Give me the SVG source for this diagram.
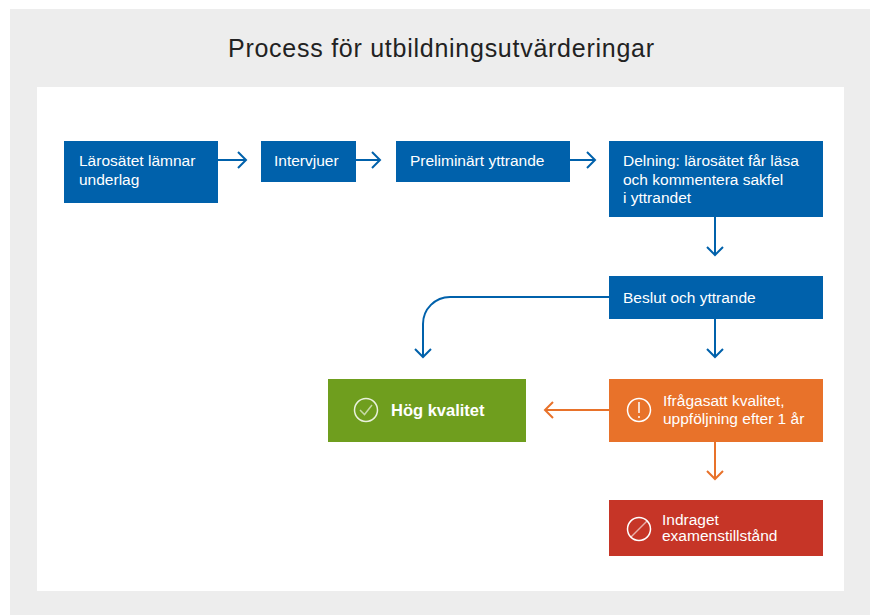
<svg xmlns="http://www.w3.org/2000/svg" width="870" height="615" viewBox="0 0 870 615">
<defs>
<style>
.t{font-family:"Liberation Sans",Arial,sans-serif;font-size:15.5px;fill:#fff}
.title{font-family:"Liberation Sans",Arial,sans-serif;font-size:25px;fill:#222}
.blue{fill:#0061AB}
.c{fill:none;stroke-width:2}
.cb{stroke:#0061AB}
.co{stroke:#E8722A}
.ic{fill:none;stroke:#fff;stroke-width:1.5}
</style>
<marker id="ab" viewBox="0 0 12 20" refX="10" refY="10" markerWidth="12" markerHeight="20" markerUnits="userSpaceOnUse" orient="auto">
<polyline points="2,2 10,10 2,18" fill="none" stroke="#0061AB" stroke-width="2"/>
</marker>
<marker id="ao" viewBox="0 0 12 20" refX="10" refY="10" markerWidth="12" markerHeight="20" markerUnits="userSpaceOnUse" orient="auto">
<polyline points="2,2 10,10 2,18" fill="none" stroke="#E8722A" stroke-width="2"/>
</marker>
</defs>
<rect x="10" y="9" width="860" height="606" fill="#EDEDED"/>
<rect x="37" y="87" width="807" height="504" fill="#fff"/>
<text class="title" x="228" y="57" textLength="426" lengthAdjust="spacing">Process för utbildningsutvärderingar</text>

<g id="connectors">
<path class="c cb" d="M218,160 H246" marker-end="url(#ab)"/>
<path class="c cb" d="M356,160 H380" marker-end="url(#ab)"/>
<path class="c cb" d="M570,160 H595" marker-end="url(#ab)"/>
<path class="c cb" d="M715,217 V255" marker-end="url(#ab)"/>
<path class="c cb" d="M609,297 H450 A27,27 0 0 0 423,324 V357" marker-end="url(#ab)"/>
<path class="c cb" d="M715,319 V357" marker-end="url(#ab)"/>
<path class="c co" d="M609,410 H545" marker-end="url(#ao)"/>
<path class="c co" d="M715,442 V479" marker-end="url(#ao)"/>
</g>

<g id="n1"><rect class="blue" x="64" y="141" width="154" height="62"/>
<text class="t" x="79" y="166">Lärosätet lämnar</text><text class="t" x="79" y="185">underlag</text></g>
<g id="n2"><rect class="blue" x="261" y="141" width="95" height="41"/>
<text class="t" x="274" y="166">Intervjuer</text></g>
<g id="n3"><rect class="blue" x="396" y="141" width="174" height="41"/>
<text class="t" x="410" y="166">Preliminärt yttrande</text></g>
<g id="n4"><rect class="blue" x="609" y="141" width="214" height="76"/>
<text class="t" x="623" y="166">Delning: lärosätet får läsa</text>
<text class="t" x="623" y="185">och kommentera sakfel</text>
<text class="t" x="623" y="203">i yttrandet</text></g>
<g id="n5"><rect class="blue" x="609" y="276" width="214" height="43"/>
<text class="t" x="623" y="303">Beslut och yttrande</text></g>
<g id="n6"><rect x="328" y="379" width="198" height="63" fill="#6F9E1E"/>
<circle class="ic" cx="366" cy="410" r="11.5" stroke-opacity="0.85"/>
<polyline class="ic" points="360,410 364.5,414.5 372,405" stroke-opacity="0.6"/>
<text class="t" x="391" y="416" style="font-size:16.5px;font-weight:bold">Hög kvalitet</text></g>
<g id="n7"><rect x="609" y="379" width="214" height="63" fill="#E8722A"/>
<circle class="ic" cx="639" cy="410" r="11.5"/>
<line class="ic" x1="639" y1="402" x2="639" y2="413"/>
<circle cx="639" cy="417" r="1" fill="#fff"/>
<text class="t" x="663" y="406">Ifrågasatt kvalitet,</text>
<text class="t" x="663" y="424">uppföljning efter 1 år</text></g>
<g id="n8"><rect x="609" y="500" width="214" height="56" fill="#C63527"/>
<circle class="ic" cx="639" cy="529" r="11.5"/>
<line class="ic" x1="631" y1="537" x2="647" y2="521" stroke-opacity="0.6"/>
<text class="t" x="662" y="525">Indraget</text>
<text class="t" x="662" y="541">examenstillstånd</text></g>
</svg>
